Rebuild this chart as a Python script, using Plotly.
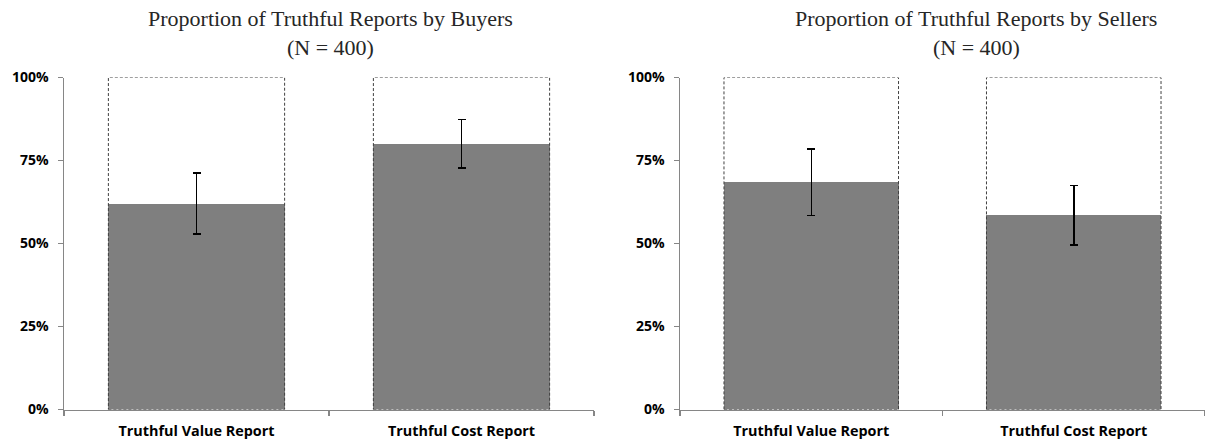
import plotly.graph_objects as go

categories = ["Truthful Value Report", "Truthful Cost Report"]
buyers_values = [0.62, 0.80]
buyers_errors = [0.092, 0.073]
sellers_values = [0.685, 0.585]
sellers_errors = [0.10, 0.089]
title_lines = [["Proportion of Truthful Reports by Buyers", "(N = 400)"],
               ["Proportion of Truthful Reports by Sellers", "(N = 400)"]]
y_ticks = [0, 0.25, 0.5, 0.75, 1.0]

W, H = 1205, 446
BAR_W = 0.665
BAR_COLOR = "#7f7f7f"
AXIS_COLOR = "#868686"
X_FONT = dict(family="Open Sans", size=14.4, color="#000000", weight="bold")
Y_FONT = dict(family="Open Sans", size=14, color="#000000", weight="bold")


def px_x(p):
    return p / W


def px_y(p):
    return (H - p) / H


fig = go.Figure()

panels = [
    (buyers_values, buyers_errors, "x", "y"),
    (sellers_values, sellers_errors, "x2", "y2"),
]
for vals, errs, xa, ya in panels:
    fig.add_trace(go.Bar(
        x=categories, y=vals, width=BAR_W, xaxis=xa, yaxis=ya,
        marker=dict(color=BAR_COLOR, line=dict(width=0)),
        error_y=dict(type="data", array=errs, visible=True,
                     color="#000000", thickness=1.5, width=4),
        showlegend=False, hoverinfo="skip",
    ))
    # dashed 100% outline boxes
    for i, _ in enumerate(categories):
        fig.add_shape(type="rect", xref=xa, yref=ya,
                      x0=i - BAR_W / 2, x1=i + BAR_W / 2, y0=0, y1=1.0,
                      line=dict(color="#404040", width=1, dash="3px,2px"),
                      fillcolor="rgba(0,0,0,0)", layer="above")

x_domains = [[px_x(64), px_x(594)], [px_x(680), px_x(1205)]]
y_domain = [px_y(409.5), px_y(77.5)]

common_x = dict(type="category", tickson="boundaries", ticks="outside",
                ticklen=5, tickwidth=1.5, tickcolor=AXIS_COLOR,
                showline=True, linecolor=AXIS_COLOR, linewidth=1.5,
                showgrid=False, zeroline=False, range=[-0.5, 1.5],
                tickfont=X_FONT, automargin=False, ticklabelstandoff=8)
common_y = dict(range=[0, 1.0], tickvals=y_ticks, tickformat=".0%",
                ticks="outside", ticklen=5, tickwidth=1.5, tickcolor=AXIS_COLOR,
                showline=True, linecolor=AXIS_COLOR, linewidth=1.5,
                showgrid=False, zeroline=False, tickfont=Y_FONT,
                domain=y_domain, automargin=False, ticklabelstandoff=6)

fig.update_layout(
    width=W, height=H, autosize=False,
    margin=dict(l=0, r=0, t=0, b=0),
    paper_bgcolor="white", plot_bgcolor="white",
    xaxis=dict(domain=x_domains[0], anchor="y", **common_x),
    yaxis=dict(anchor="x", **common_y),
    xaxis2=dict(domain=x_domains[1], anchor="y2", **common_x),
    yaxis2=dict(anchor="x2", **common_y),
    bargap=0,
)

title_cx = [330, 976]
line_cy = [18, 48]
for cx, lines in zip(title_cx, title_lines):
    for cy, txt in zip(line_cy, lines):
        fig.add_annotation(text=txt, xref="paper", yref="paper",
                           x=px_x(cx), y=px_y(cy),
                           xanchor="center", yanchor="middle", showarrow=False,
                           font=dict(family="Liberation Serif", size=22, color="#262626"))

fig.write_html("out.html",
               config={"displayModeBar": False, "staticPlot": True},
               post_script="document.body.style.margin='0px';")
